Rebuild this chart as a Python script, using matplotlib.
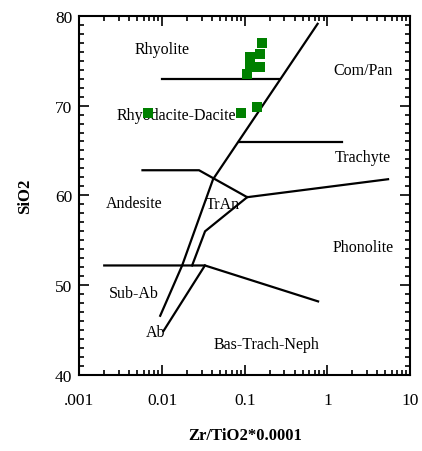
import matplotlib
matplotlib.use("Agg")
import matplotlib.pyplot as plt
from matplotlib.ticker import LogLocator, FixedLocator, FixedFormatter, MultipleLocator

plt.rcParams['font.family'] = ['Liberation Serif', 'DejaVu Serif']

# sample compositions (Zr/TiO2*0.0001, SiO2)
zr_tio2 = [0.00682, 0.0902, 0.140, 0.162, 0.153, 0.116, 0.116, 0.153, 0.107]
sio2 = [69.2, 69.2, 69.8, 77.0, 75.7, 75.4, 74.3, 74.3, 73.5]

# field boundaries, each a polyline of (x, y)
boundaries = [
    [(0.01, 73.0), (0.26, 73.0)],
    [(0.085, 65.9), (1.49, 65.9)],
    [(0.76, 79.1), (0.0414, 61.8), (0.0175, 52.2), (0.0095, 46.6)],
    [(0.0058, 62.8), (0.028, 62.8), (0.107, 59.8), (5.4, 61.8)],
    [(0.107, 59.8), (0.0331, 56.0), (0.0231, 52.2)],
    [(0.002, 52.2), (0.033, 52.2), (0.77, 48.2)],
    [(0.033, 52.2), (0.0104, 44.9)],
]

field_names = ["Rhyolite", "Rhyodacite-Dacite", "Com/Pan", "Trachyte", "Andesite",
               "TrAn", "Phonolite", "Sub-Ab", "Ab", "Bas-Trach-Neph"]
field_x = [0.0101, 0.0148, 2.69, 2.69, 0.00465, 0.054, 2.69, 0.00458, 0.0083, 0.181]
field_y = [76.3, 69.0, 74.0, 64.3, 59.1, 59.0, 54.2, 49.1, 44.8, 43.5]

xticks = [0.001, 0.01, 0.1, 1, 10]
xticklabels = [".001", "0.01", "0.1", "1", "10"]
yticks = [40, 50, 60, 70, 80]

fig = plt.figure(figsize=(4.22, 4.52), dpi=100)
ax = fig.add_axes([0.188, 0.168, 0.784, 0.795])

for line in boundaries:
    xs, ys = zip(*line)
    ax.plot(xs, ys, color='black', lw=1.6, solid_joinstyle='miter', zorder=2)

for name, x, y in zip(field_names, field_x, field_y):
    ax.text(x, y, name, ha='center', va='center', fontsize=11.5, zorder=3)

ax.plot(zr_tio2, sio2, 's', color='#008000', markersize=7.5, markeredgewidth=0, zorder=4)

ax.set_xscale('log')
ax.set_xlim(0.001, 10)
ax.set_ylim(40, 80)
ax.xaxis.set_major_locator(FixedLocator(xticks))
ax.xaxis.set_major_formatter(FixedFormatter(xticklabels))
ax.xaxis.set_minor_locator(LogLocator(base=10, subs=range(2, 10)))
ax.set_yticks(yticks)
ax.yaxis.set_minor_locator(MultipleLocator(1))

ax.tick_params(which='both', direction='in', top=True, right=True, width=1.2)
ax.tick_params(which='major', length=7, labelsize=12.5)
ax.tick_params(which='minor', length=3.5)
ax.tick_params(axis='x', which='major', pad=12)
ax.tick_params(axis='y', which='major', pad=5)
for s in ax.spines.values():
    s.set_linewidth(1.5)

ax.set_xlabel("Zr/TiO2*0.0001", fontsize=12, fontweight='bold', labelpad=14)
ax.set_ylabel("SiO2", fontsize=12, fontweight='bold', labelpad=16)

fig.savefig("out.png", dpi=100)
